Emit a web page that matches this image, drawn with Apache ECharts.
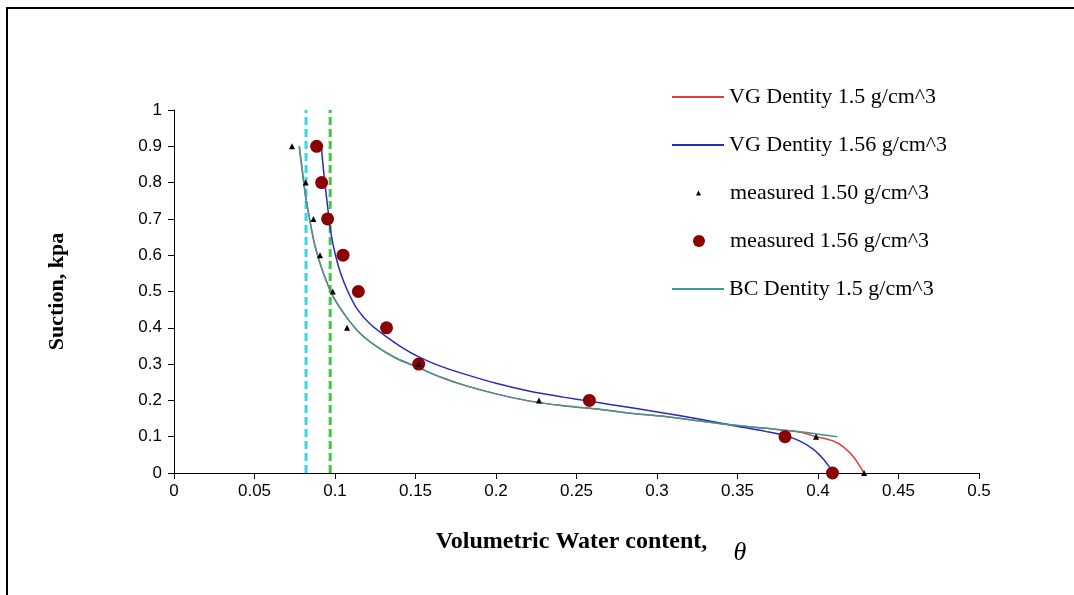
<!DOCTYPE html>
<html>
<head>
<meta charset="utf-8">
<script src="https://cdn.jsdelivr.net/npm/echarts@6/dist/echarts.min.js"></script>
<style>
  html, body { margin: 0; padding: 0; background: #fff; }
  #chart { width: 1074px; height: 595px; }
</style>
</head>
<body>
<div id="chart"></div>
<script>
// measured points [theta, suction]
var measured150 = [[0.0733, 0.9], [0.0818, 0.8], [0.0866, 0.7], [0.0907, 0.6], [0.0986, 0.5],
  [0.1075, 0.4], [0.152, 0.3], [0.2267, 0.2], [0.3988, 0.1], [0.4286, 0]]
var measured156 = [[0.0886, 0.9], [0.0917, 0.8], [0.0954, 0.7], [0.105, 0.6], [0.1145, 0.5],
  [0.132, 0.4], [0.152, 0.3], [0.258, 0.2], [0.3795, 0.1], [0.409, 0]]

// fitted curves
var vg150 = [[0.0778, 0.9], [0.0795, 0.84], [0.0815, 0.77], [0.0842, 0.70], [0.0876, 0.625],
  [0.0928, 0.55], [0.099, 0.485], [0.107, 0.43], [0.1155, 0.385], [0.126, 0.348], [0.138, 0.316],
  [0.152, 0.29], [0.165, 0.265], [0.18, 0.242], [0.20, 0.218], [0.221, 0.198], [0.242, 0.185],
  [0.265, 0.175], [0.285, 0.164], [0.306, 0.155], [0.327, 0.143], [0.347, 0.132], [0.368, 0.123],
  [0.389, 0.112], [0.399, 0.1], [0.4095, 0.088], [0.4157, 0.072], [0.422, 0.045], [0.4286, 0]]
var vg156 = [[0.0915, 0.9], [0.0925, 0.85], [0.0937, 0.8], [0.0955, 0.73], [0.0975, 0.66],
  [0.1003, 0.6], [0.1035, 0.55], [0.108, 0.5], [0.114, 0.45], [0.1215, 0.412], [0.132, 0.375],
  [0.142, 0.345], [0.152, 0.32], [0.165, 0.295], [0.18, 0.273], [0.20, 0.247], [0.221, 0.225],
  [0.242, 0.209], [0.258, 0.198], [0.2708, 0.189], [0.2853, 0.179], [0.306, 0.164], [0.3267, 0.148],
  [0.347, 0.131], [0.368, 0.114], [0.3795, 0.103], [0.3888, 0.088], [0.397, 0.066], [0.4034, 0.038],
  [0.4085, 0.008], [0.41, 0]]
var bc150 = [[0.0778, 0.9], [0.0795, 0.84], [0.0815, 0.77], [0.0842, 0.70], [0.0876, 0.625],
  [0.0928, 0.55], [0.099, 0.485], [0.107, 0.43], [0.1155, 0.385], [0.126, 0.348], [0.138, 0.316],
  [0.152, 0.29], [0.165, 0.265], [0.18, 0.242], [0.20, 0.218], [0.221, 0.198], [0.242, 0.185],
  [0.265, 0.175], [0.285, 0.164], [0.306, 0.155], [0.327, 0.143], [0.347, 0.132], [0.368, 0.123],
  [0.389, 0.1135], [0.40, 0.107], [0.412, 0.1]]

// dashed reference lines
var cyanLineX = 0.082
var greenLineX = 0.097

var seriesNames = ['VG Dentity 1.5 g/cm^3', 'VG Dentity 1.56 g/cm^3', 'measured 1.50 g/cm^3',
  'measured 1.56 g/cm^3', 'BC Dentity 1.5 g/cm^3']
var colors = ['#e0403a', '#2a2ab8', '#000000', '#8b0000', '#3a9a9a']

var serif = 'Liberation Serif, Times New Roman, serif'
var sans = 'Liberation Sans, Arial, sans-serif'

// one legend per row so every icon can have its own size
var legendRows = [
  { top: 86, left: 672, w: 52, h: 2, icon: 'rect', pad: 0 },
  { top: 134, left: 672, w: 52, h: 2, icon: 'rect', pad: 0 },
  { top: 182, left: 696, w: 5, h: 5, icon: 'triangle', pad: 24 },
  { top: 230, left: 693, w: 12, h: 12, icon: 'circle', pad: 20 },
  { top: 278, left: 672, w: 52, h: 2, icon: 'rect', pad: 0 }
]

var chart = echarts.init(document.getElementById('chart'))

var legends = seriesNames.map(function (n, i) {
  var r = legendRows[i]
  return {
    data: [{ name: n, icon: r.icon, itemStyle: { color: colors[i], opacity: 1 } }],
    left: r.left,
    top: r.top,
    padding: 0,
    itemWidth: r.w,
    itemHeight: r.h,
    selectedMode: false,
    textStyle: { fontFamily: serif, fontSize: 22, color: '#000', padding: [0, 0, 0, r.pad] }
  }
})

chart.setOption({
  animation: false,
  backgroundColor: '#fff',
  grid: { left: 174, right: 95, top: 110, bottom: 122 },
  legend: legends,
  xAxis: {
    type: 'value',
    min: 0,
    max: 0.5,
    interval: 0.05,
    name: 'Volumetric Water content,',
    nameLocation: 'middle',
    nameGap: 57,
    nameTextStyle: { fontFamily: serif, fontSize: 24, fontWeight: 'bold', color: '#000', padding: [0, 10, 0, 0] },
    axisLine: { lineStyle: { color: '#000', width: 1 } },
    axisTick: { length: 6, lineStyle: { color: '#000' } },
    axisLabel: { fontFamily: sans, fontSize: 17, color: '#000', margin: 10 },
    splitLine: { show: false }
  },
  yAxis: {
    type: 'value',
    min: 0,
    max: 1,
    interval: 0.1,
    name: 'Suction, kpa',
    nameLocation: 'middle',
    nameGap: 106,
    nameTextStyle: { fontFamily: serif, fontSize: 22, fontWeight: 'bold', color: '#000' },
    axisLine: { show: true, lineStyle: { color: '#000', width: 1 } },
    axisTick: { show: true, length: 6, lineStyle: { color: '#000' } },
    axisLabel: { fontFamily: sans, fontSize: 17, color: '#000', margin: 12 },
    splitLine: { show: false }
  },
  graphic: [
    {
      type: 'rect',
      shape: { x: 7, y: 8, width: 1200, height: 700 },
      style: { fill: 'none', stroke: '#000', lineWidth: 2 },
      silent: true
    },
    {
      type: 'text',
      x: 740,
      y: 553,
      style: {
        text: 'θ', font: 'italic 26px ' + serif, fill: '#000',
        align: 'center', verticalAlign: 'middle'
      }
    }
  ],
  series: [
    {
      name: 'cyan line', type: 'line', data: [[cyanLineX, 0], [cyanLineX, 1]],
      symbol: 'none', lineStyle: { color: '#33d6ea', width: 3, type: [8, 4] }, z: 1
    },
    {
      name: 'green line', type: 'line', data: [[greenLineX, 0], [greenLineX, 1]],
      symbol: 'none', lineStyle: { color: '#3cc83c', width: 3, type: [8, 4] }, z: 1
    },
    {
      name: seriesNames[0], type: 'line', data: vg150, smooth: 0.3, symbol: 'none',
      lineStyle: { color: colors[0], width: 1.5 }, itemStyle: { color: colors[0] }, z: 2
    },
    {
      name: seriesNames[1], type: 'line', data: vg156, smooth: 0.3, symbol: 'none',
      lineStyle: { color: colors[1], width: 1.5 }, itemStyle: { color: colors[1] }, z: 2
    },
    {
      name: seriesNames[2], type: 'scatter', data: measured150, symbol: 'triangle',
      symbolSize: 6, itemStyle: { color: colors[2], opacity: 1 }, z: 5
    },
    {
      name: seriesNames[3], type: 'scatter', data: measured156, symbol: 'circle',
      symbolSize: 13, itemStyle: { color: colors[3], opacity: 1 }, z: 4
    },
    {
      name: seriesNames[4], type: 'line', data: bc150, smooth: 0.3, symbol: 'none',
      lineStyle: { color: colors[4], width: 1.5 }, itemStyle: { color: colors[4] }, z: 2
    }
  ]
})
</script>
</body>
</html>
